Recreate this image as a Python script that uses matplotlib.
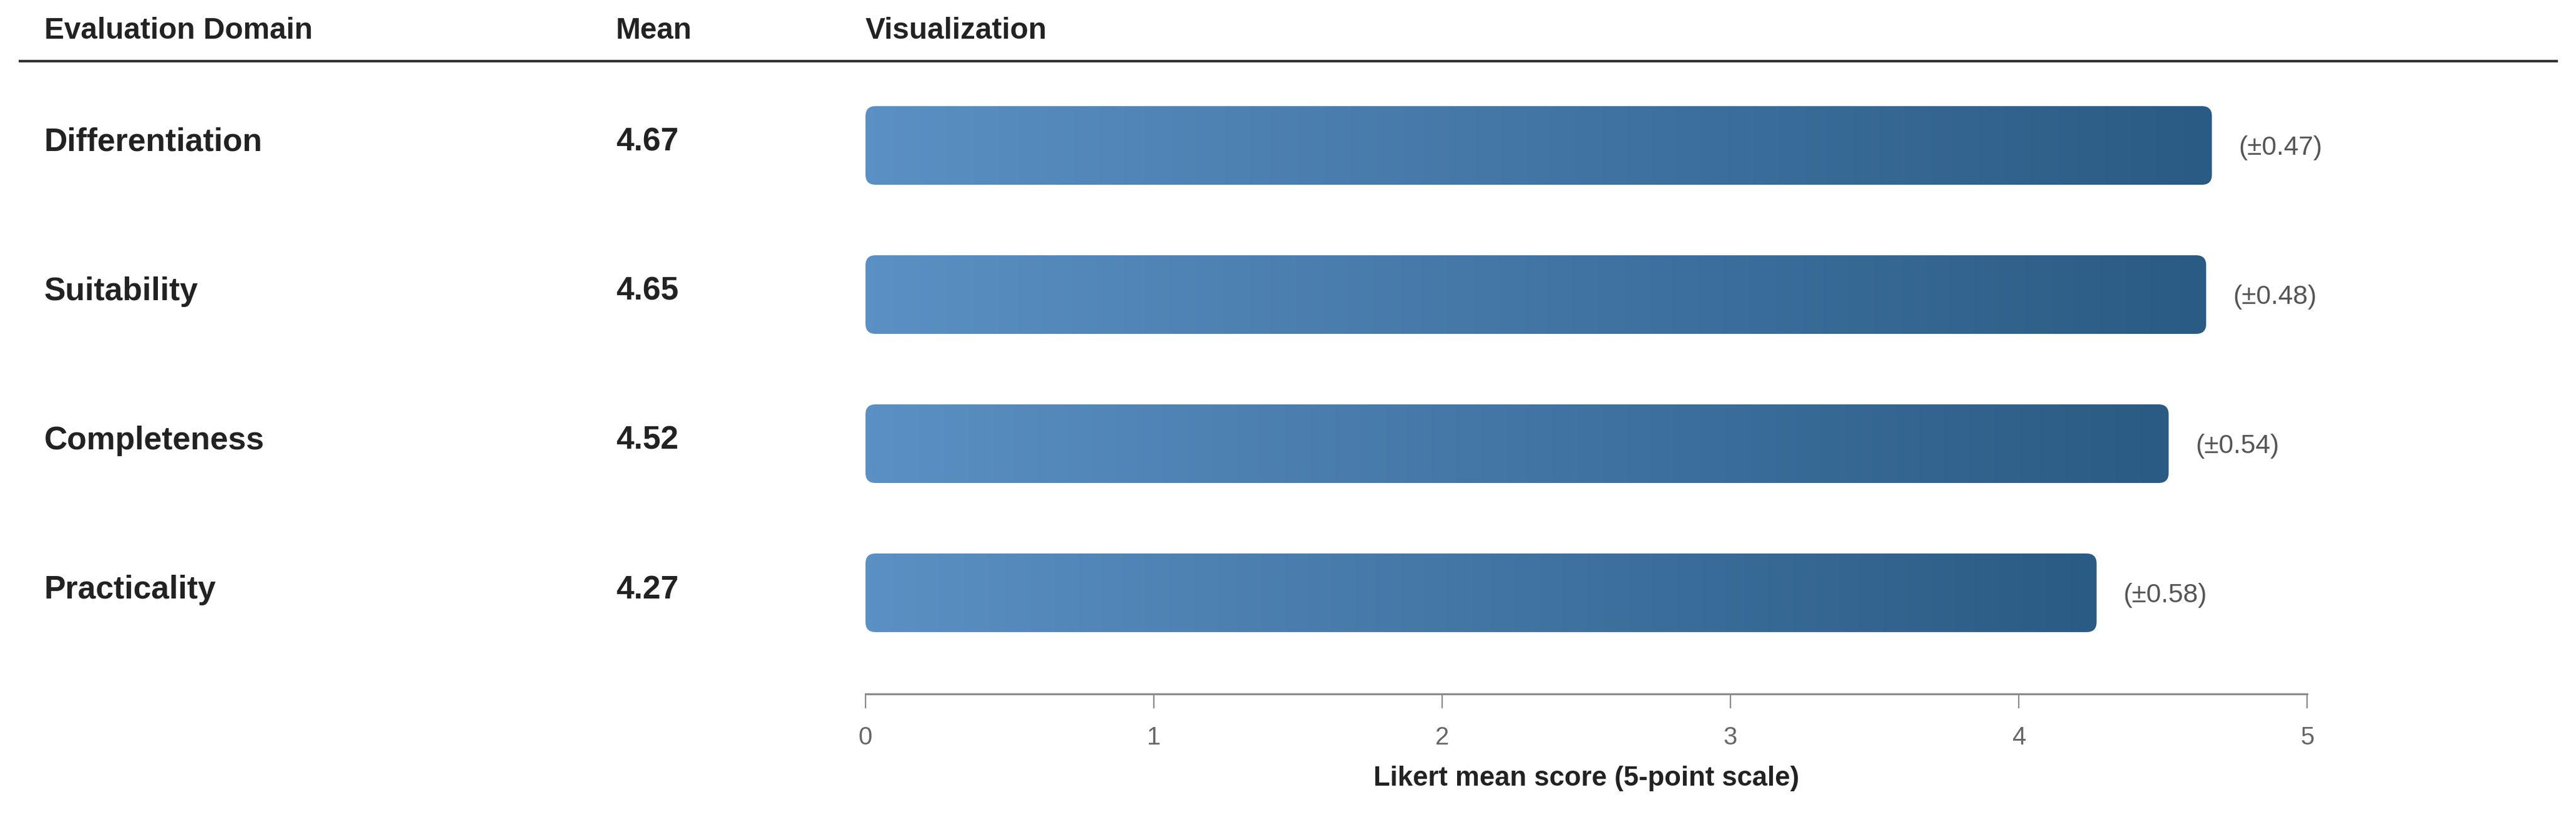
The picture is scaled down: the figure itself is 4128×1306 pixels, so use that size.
import numpy as np
import matplotlib
matplotlib.use("Agg")
import matplotlib.pyplot as plt
from matplotlib.patches import FancyBboxPatch
from matplotlib.colors import LinearSegmentedColormap
from matplotlib.transforms import blended_transform_factory

plt.rcParams['font.family'] = ['Liberation Sans', 'DejaVu Sans']

# ---- data ----
domains = ["Differentiation", "Suitability", "Completeness", "Practicality"]
means = [4.67, 4.65, 4.52, 4.27]
sds = [0.47, 0.48, 0.54, 0.58]
x_ticks = [0, 1, 2, 3, 4, 5]
headers = ["Evaluation Domain", "Mean", "Visualization"]
x_label = "Likert mean score (5-point scale)"

W, H, DPI = 4128, 1306, 200
fig = plt.figure(figsize=(W / DPI, H / DPI), dpi=DPI)
fig.patch.set_facecolor("white")

# axes placement in pixels
ax_left, ax_right = 1387, 3697
ax_top, ax_bottom = 120, 1112
ax = fig.add_axes([ax_left / W, 1 - ax_bottom / H,
                   (ax_right - ax_left) / W, (ax_bottom - ax_top) / H])

n = len(domains)
ypos = np.arange(n)[::-1].astype(float)  # top row highest
bar_h = 0.527
ylim = (-0.678, 3.473)
xlim = (0, 5)

cmap = LinearSegmentedColormap.from_list("bar", ["#5b90c4", "#2a5b84"])
grad = np.linspace(0, 1, 256).reshape(1, -1)

ax.set_xlim(*xlim)
ax.set_ylim(*ylim)
# pixel per data unit to keep round corners circular
px_per_x = (ax_right - ax_left) / (xlim[1] - xlim[0])
px_per_y = (ax_bottom - ax_top) / (ylim[1] - ylim[0])
radius_px = 16
rx = radius_px / px_per_x
aspect = px_per_x / px_per_y

for y, m, s in zip(ypos, means, sds):
    patch = FancyBboxPatch((0, y - bar_h / 2), m, bar_h,
                           boxstyle=f"round,pad=0,rounding_size={rx}",
                           mutation_aspect=aspect,
                           facecolor="none", edgecolor="none", zorder=2)
    ax.add_patch(patch)
    im = ax.imshow(grad, cmap=cmap, aspect="auto",
                   extent=[0, m, y - bar_h / 2, y + bar_h / 2],
                   interpolation="bilinear", zorder=2)
    im.set_clip_path(patch)
    ax.annotate(f"(±{s:.2f})", xy=(m, y - 0.015), xytext=(15.5, 0),
                textcoords="offset points", ha="left", va="center",
                fontsize=15.3, color="#555555")

ax.set_xlim(*xlim)
ax.set_ylim(*ylim)

for sp in ["top", "right", "left"]:
    ax.spines[sp].set_visible(False)
ax.spines["bottom"].set_color("#8a8a8a")
ax.spines["bottom"].set_linewidth(1.1)
ax.set_yticks([])
ax.set_xticks(x_ticks)
ax.set_xticklabels([str(t) for t in x_ticks])
ax.tick_params(axis="x", length=8.3, width=0.8, color="#8a8a8a",
               labelsize=14.4, labelcolor="#666666", pad=10)

# row labels and means
tr = blended_transform_factory(fig.transFigure, ax.transData)
for y, d, m in zip(ypos, domains, means):
    ax.text(71 / W, y + 0.02, d, transform=tr, ha="left", va="center",
            fontsize=18.6, fontweight="bold", color="#222222")
    ax.text(987 / W, y + 0.02, f"{m:.2f}", transform=tr, ha="left", va="center",
            fontsize=18.6, fontweight="bold", color="#222222")

# headers
hx = [71, 987, 1387]
for x, h in zip(hx, headers):
    fig.text(x / W, 1 - 50 / H, h, ha="left", va="center",
             fontsize=17.2, fontweight="bold", color="#222222")
fig.add_artist(plt.Line2D([32 / W, 4097 / W], [1 - 98 / H, 1 - 98 / H],
                          color="#333333", linewidth=1.45,
                          transform=fig.transFigure))

# x label
fig.text((ax_left + ax_right) / 2 / W, 1 - 1248 / H, x_label,
         ha="center", va="center", fontsize=15.7, fontweight="bold",
         color="#222222")

fig.savefig("out.png", dpi=DPI, facecolor="white")
